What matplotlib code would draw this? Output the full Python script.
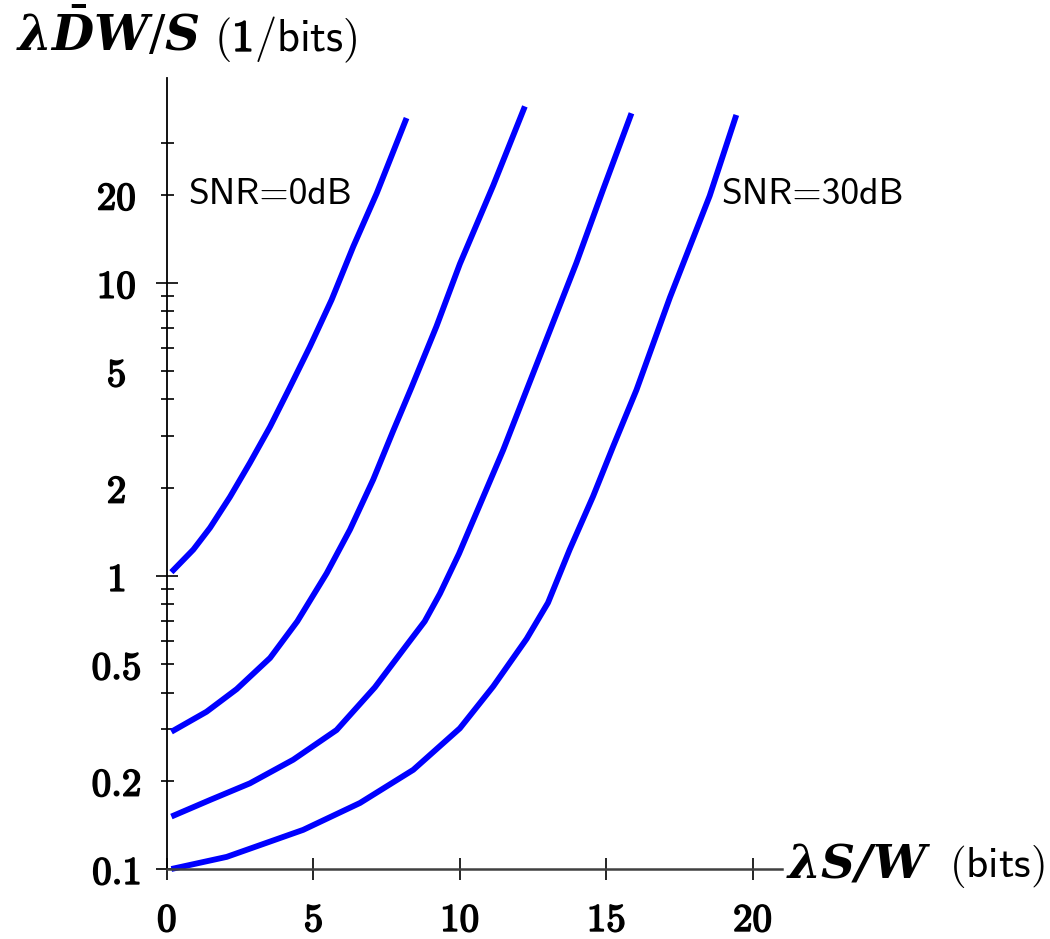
import matplotlib
matplotlib.use("Agg")
import matplotlib.pyplot as plt
import matplotlib.patheffects as pe

plt.rcParams['mathtext.fontset'] = 'cm'

# ---- data ----
x_0dB = [0.15, 0.9, 1.47, 2.15, 2.83, 3.52, 4.17, 4.88, 5.62, 6.36, 7.16, 8.18]
y_0dB = [1.03, 1.23, 1.46, 1.86, 2.43, 3.23, 4.35, 6.06, 8.75, 13.3, 20.2, 36.5]

x_10dB = [0.15, 1.35, 2.38, 3.52, 4.45, 5.45, 6.25, 7.04, 7.72, 8.35, 9.2, 10.0, 11.14, 12.22]
y_10dB = [0.294, 0.344, 0.411, 0.525, 0.70, 1.02, 1.44, 2.13, 3.12, 4.40, 7.1, 11.6, 21.5, 40.0]

x_20dB = [0.15, 1.47, 2.83, 4.31, 5.79, 7.1, 8.18, 8.8, 9.32, 9.97, 11.48, 12.28, 13.98, 14.89, 15.86]
y_20dB = [0.151, 0.172, 0.196, 0.236, 0.298, 0.417, 0.58, 0.70, 0.87, 1.19, 2.69, 4.31, 11.7, 20.8, 37.9]

x_30dB = [0.15, 2.04, 4.65, 6.59, 8.41, 10.0, 11.14, 12.28, 13.01, 13.75, 14.55, 15.23, 16.03, 17.17, 18.53, 19.44]
y_30dB = [0.100, 0.110, 0.136, 0.168, 0.218, 0.302, 0.42, 0.61, 0.81, 1.23, 1.87, 2.76, 4.31, 8.9, 19.8, 37.4]

series = [(x_0dB, y_0dB), (x_10dB, y_10dB), (x_20dB, y_20dB), (x_30dB, y_30dB)]

x_ticks = [0, 5, 10, 15, 20]
y_major = [0.1, 1, 10]
y_major_labels = ['0.1', '1', '10']
y_minor = [0.2, 0.3, 0.4, 0.5, 0.6, 0.7, 0.8, 0.9, 2, 3, 4, 5, 6, 7, 8, 9, 20, 30]
y_minor_labeled = {0.2: '0.2', 0.5: '0.5', 2: '2', 5: '5', 20: '20'}

W, H = 1050, 939
DPI = 100
PX = 72.0 / DPI  # points per pixel
fig = plt.figure(figsize=(W / DPI, H / DPI), dpi=DPI)
ax = fig.add_axes([167 / W, 1 - 869 / H, (782 - 167) / W, (869 - 78) / H])

for xs, ys in series:
    ax.plot(xs, ys, color='#0000ff', lw=4.2, solid_capstyle='butt', solid_joinstyle='round', clip_on=False)

ax.set_yscale('log')
ax.set_xlim(0, 21)
ax.set_ylim(0.1, 50)

for s in ['top', 'right']:
    ax.spines[s].set_visible(False)
ax.spines['left'].set_linewidth(1.3)
ax.spines['left'].set_color('black')
ax.spines['bottom'].set_linewidth(1.8)
ax.spines['bottom'].set_color('#404040')

fs = 28
ax.set_xticks(x_ticks, [r'$\mathbf{%d}$' % t for t in x_ticks])
ax.set_yticks(y_major, [r'$\mathbf{%s}$' % l for l in y_major_labels])
ax.set_yticks(y_minor, [r'$\mathbf{%s}$' % y_minor_labeled[t] if t in y_minor_labeled else '' for t in y_minor],
              minor=True)

maj_len = 22 * PX
min_len = 13 * PX
label_center_x = 116.5
ax.tick_params(axis='x', which='major', direction='inout', length=maj_len, width=1.2, pad=21 * PX,
               labelsize=fs, color='black')
ax.tick_params(axis='y', which='major', direction='inout', length=maj_len, width=1.2,
               pad=(167 - maj_len / 2 / PX - label_center_x) * PX, labelsize=fs, color='black')
ax.tick_params(axis='y', which='minor', direction='inout', length=min_len, width=1.2,
               pad=(167 - min_len / 2 / PX - label_center_x) * PX, labelsize=fs, color='black')
ax.tick_params(axis='x', which='minor', bottom=False)

stroke = [pe.withStroke(linewidth=1.2, foreground='black')]
for lab in ax.get_yticklabels() + ax.get_yticklabels(minor=True):
    lab.set_horizontalalignment('center')
    lab.set_path_effects(stroke)
for lab in ax.get_xticklabels():
    lab.set_path_effects(stroke)

ax.text(0.72, 20, 'SNR=0dB', family='cmss10', fontsize=27, ha='left', va='center')
ax.text(18.94, 20, 'SNR=30dB', family='cmss10', fontsize=27, ha='left', va='center')

# axis labels built from pieces placed one after another
renderer = fig.canvas.get_renderer()

def pieces(x_px, base_px, parts):
    x = x_px
    for text, size, mfam, gap, bold in parts:
        x += gap
        t = fig.text(x / W, 1 - base_px / H, text, fontsize=size, ha='left', va='baseline',
                     math_fontfamily=mfam)
        if bold:
            t.set_path_effects(stroke)
        x = t.get_window_extent(renderer).x1

pieces(16, 51, [
    (r'$\mathbfit{\lambda}\bar{\mathbfit{D}}\mathbfit{W}/\mathbfit{S}$', 35, 'dejavuserif', 0, False),
    (r'$($', 32, 'cm', 14, False),
    (r'$\mathbf{1}$', 32, 'cm', 1, True),
    (r'$/\mathsf{bits})$', 32, 'cm', 1, False),
])
pieces(786, 877, [
    (r'$\mathbfit{\lambda S/W}$', 34, 'dejavuserif', 0, False),
    (r'$\mathsf{(bits)}$', 31, 'cm', 18, False),
])

fig.savefig('out.png', dpi=DPI, facecolor='white')
